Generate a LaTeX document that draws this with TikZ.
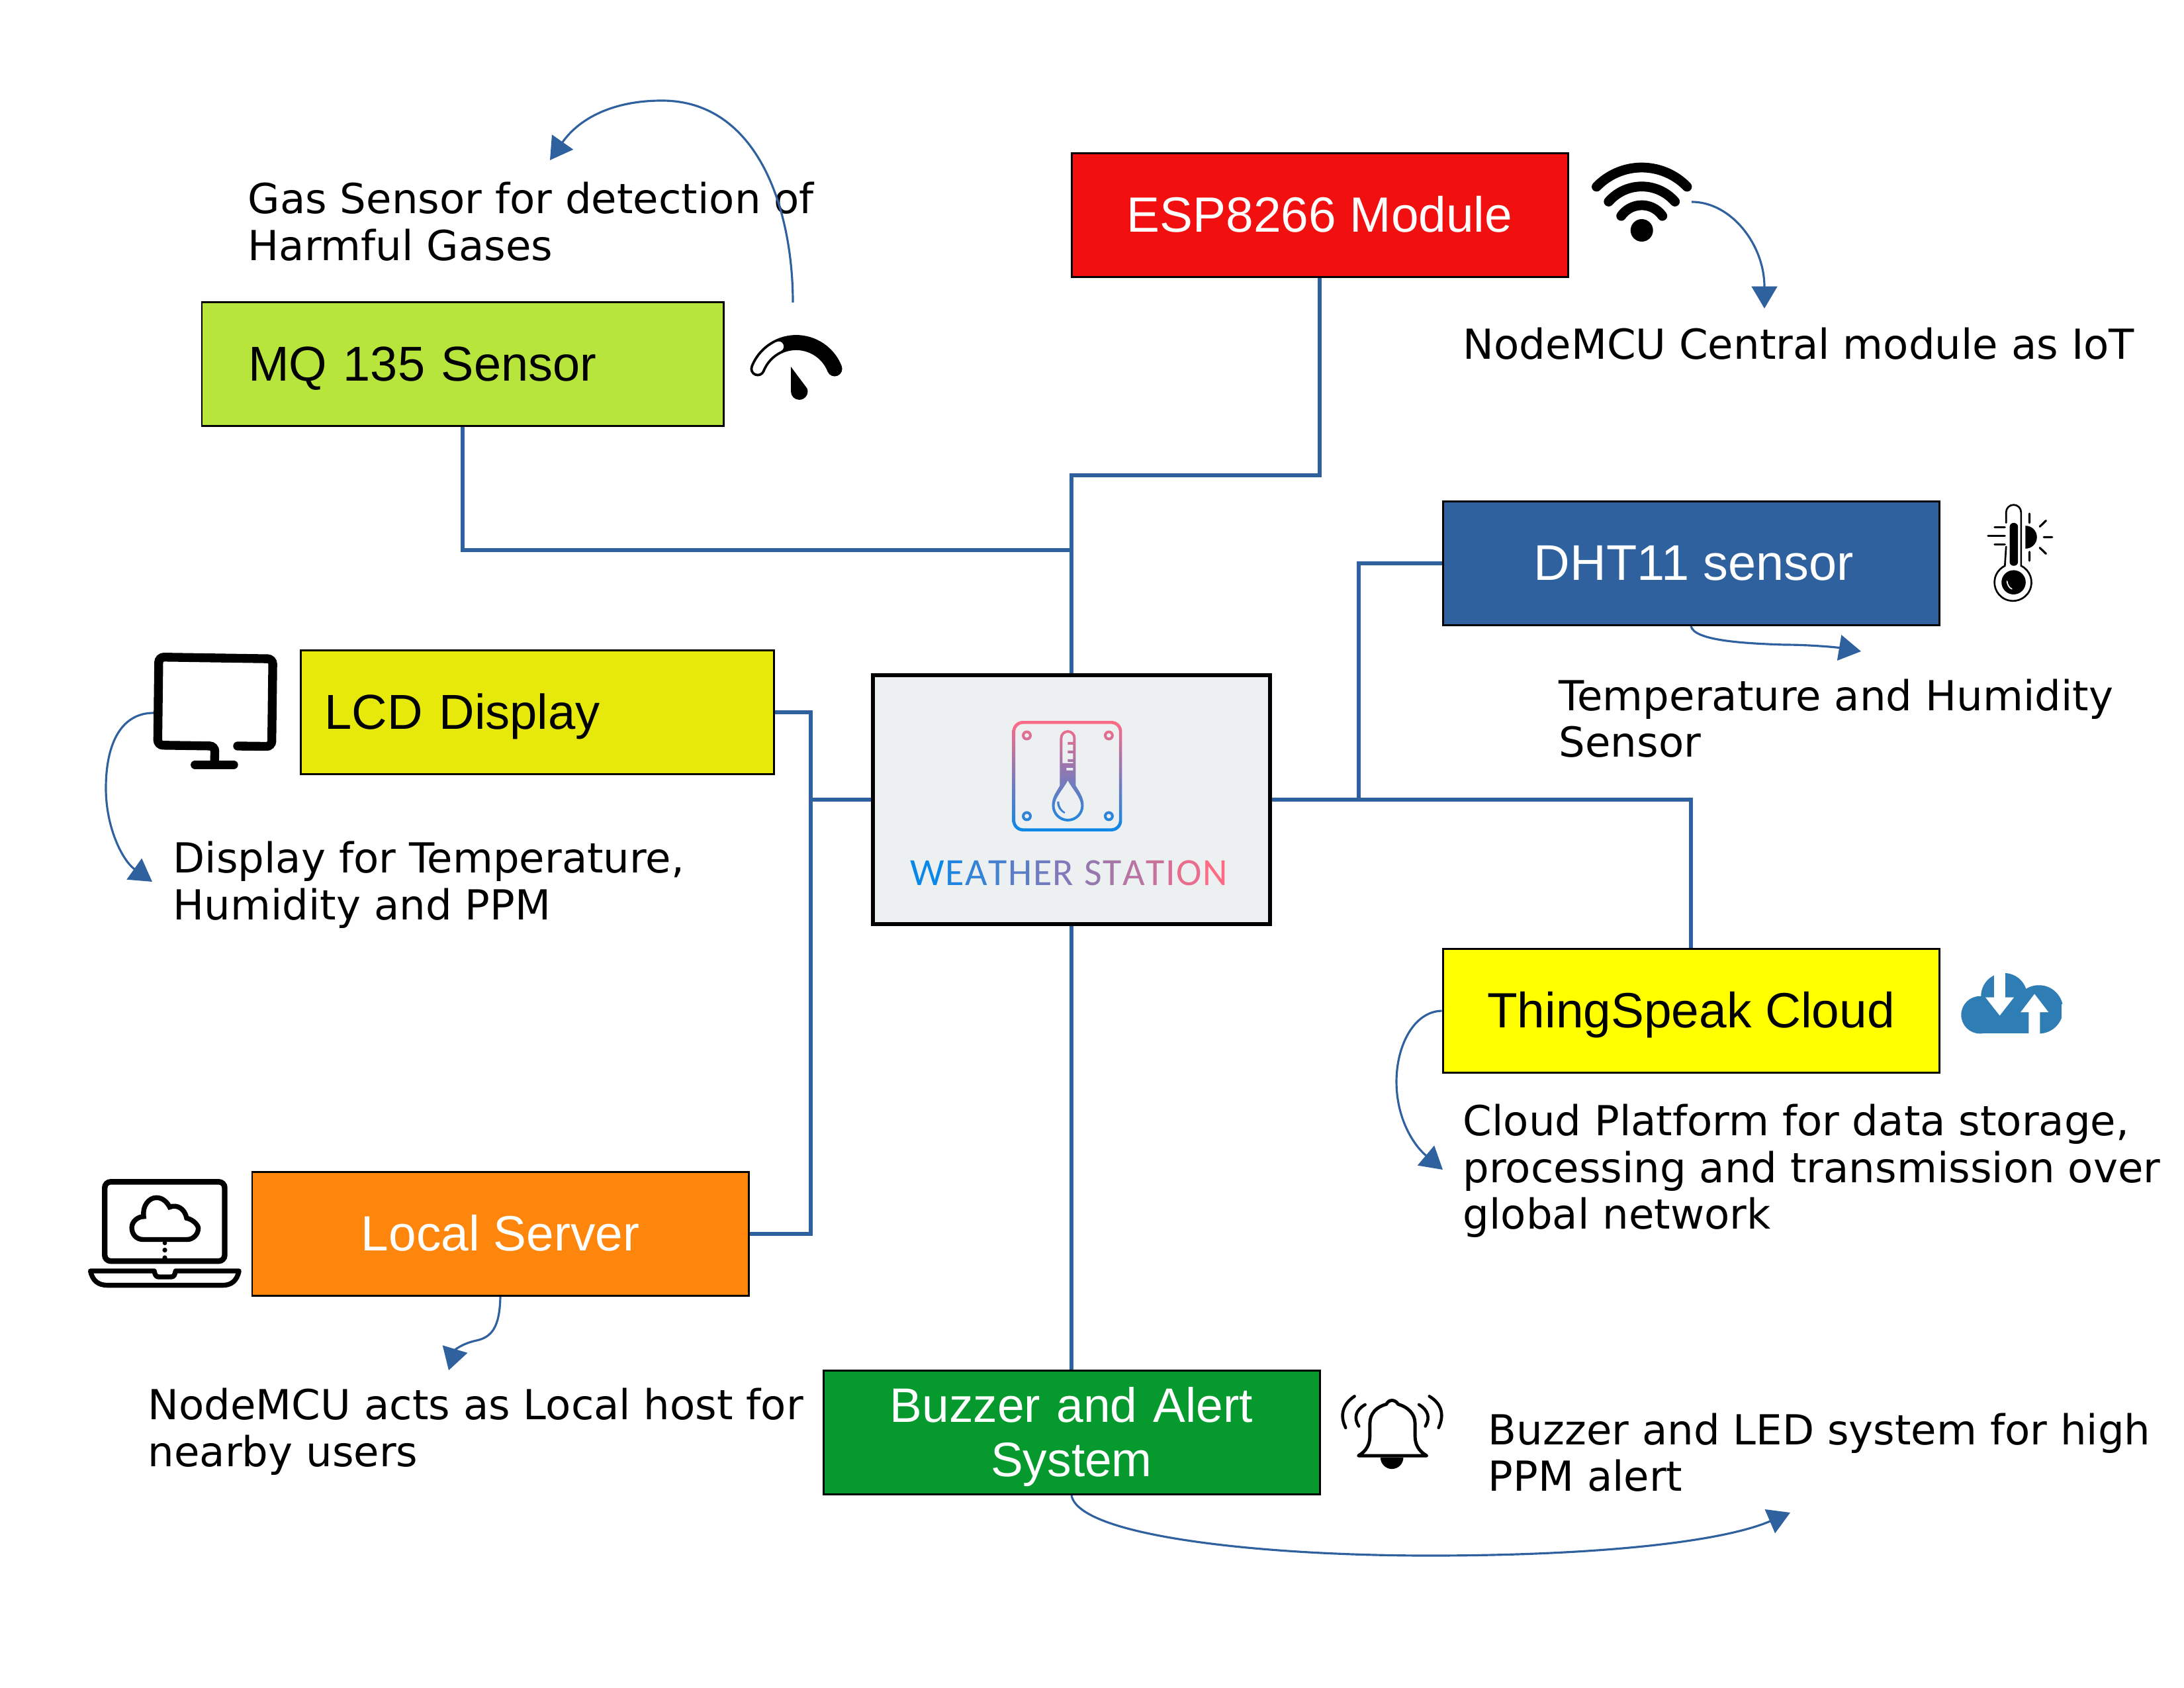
\documentclass[tikz,border=0pt]{standalone}
\usepackage{fontspec}
\usepackage{tikz}
\usetikzlibrary{arrows.meta}
\setmainfont{Liberation Sans}
\newfontfamily\descfont{DejaVu Sans}
\newfontfamily\logofont{Carlito}
\definecolor{fBlue}{HTML}{2F619F}
\definecolor{fCloud}{HTML}{2E7EB5}
\definecolor{wsBlue}{HTML}{0A88E8}
\definecolor{wsPink}{HTML}{FF6B85}
\definecolor{fWeather}{HTML}{ECF0F1}
\definecolor{fRed}{HTML}{F20F0F}
\definecolor{fLime}{HTML}{B8E53C}
\definecolor{fMustard}{HTML}{E6E90A}
\definecolor{fYellow}{HTML}{FFFF00}
\definecolor{fOrange}{HTML}{FF860D}
\definecolor{fGreen}{HTML}{069A2E}
\tikzstyle{fBox} = [rectangle, minimum width=7.5cm, minimum height=1.87cm, inner sep=0pt, text centered, text height=14.3pt, text depth=0pt, draw=black, line width=0.85pt, font=\fontsize{21.3}{23.4}\selectfont]
\tikzstyle{fText} = [anchor=west, inner sep=0pt, align=left, font=\descfont\fontsize{17.8}{20.1}\selectfont]
\tikzstyle{fBus} = [line width=1.8pt, draw=fBlue]
\tikzstyle{fArrow} = [line width=0.9pt, draw=fBlue, -{Triangle[length=9.5pt,width=11pt,fill=fBlue]}]
\tikzstyle{fPix} = [x=0.01cm, y=0.01cm]
\tikzstyle{fZoom} = [x=0.003333cm, y=0.003333cm]
\begin{document}
\begin{tikzpicture}[node distance=2cm]
    \useasboundingbox (0,0) rectangle (33,-25.5);

    \node (weather) [fBox, minimum width=6cm, minimum height=3.76cm, line width=1.5pt, fill=fWeather] at (16.19,-12.08) {};
    \node (esp) [fBox, fill=fRed, text=white, above of=weather, xshift=3.75cm, yshift=6.83cm] {ESP8266 Module};
    \node (mq) [fBox, fill=fLime, minimum width=7.88cm, text width=6.48cm, align=left, font=\fontsize{21.05}{23.4}\selectfont, left of=weather, xshift=-7.2cm, yshift=6.58cm] {MQ 135 Sensor};
    \node (dht) [fBox, fill=fBlue, text=white, font=\fontsize{21.55}{23.4}\selectfont, right of=weather, xshift=7.36cm, yshift=3.57cm] {\hspace{0.085cm}DHT11 sensor};
    \node (lcd) [fBox, fill=fMustard, minimum width=7.15cm, text width=6.43cm, align=left, font=\fontsize{21.1}{23.4}\selectfont, left of=weather, xshift=-6.07cm, yshift=1.32cm] {LCD Display};
    \node (thing) [fBox, fill=fYellow, right of=weather, xshift=7.36cm, yshift=-3.19cm] {ThingSpeak Cloud};
    \node (local) [fBox, fill=fOrange, text=white, left of=weather, xshift=-6.63cm, yshift=-6.56cm] {Local Server};
    \node (buzzer) [fBox, fill=fGreen, text=white, text width=7cm, text depth=23.4pt, font=\fontsize{20.8}{23.4}\selectfont, below of=weather, yshift=-7.56cm] {Buzzer and Alert\\System};

    \node (gasText) [fText] at (3.74,-3.35) {Gas Sensor for detection of\\Harmful Gases};
    \node (espText) [fText] at (22.10,-5.19) {NodeMCU Central module as IoT};
    \node (dhtText) [fText] at (23.55,-10.85) {Temperature and Humidity\\Sensor};
    \node (lcdText) [fText] at (2.61,-13.37) {Display for Temperature,\\Humidity and PPM};
    \node (thingText) [fText] at (22.10,-17.69) {Cloud Platform for data storage,\\processing and transmission over\\global network};
    \node (localText) [fText] at (2.23,-21.63) {NodeMCU acts as Local host for\\nearby users};
    \node (buzzerText) [fText] at (22.48,-21.94) {Buzzer and LED system for high\\PPM alert};
    \node (logoText) [inner sep=0pt, font=\logofont\fontsize{16.5}{18}\selectfont] at (16.16,-13.19) {\foreach \c/\p in {W/0,E/9,A/17,T/25,H/33,E/41,R/48,~/52,S/57,T/64,A/71,T/78,I/84,O/91,N/100}{\textcolor{wsPink!\p!wsBlue}{\c}\kern0.43pt}};

    \coordinate (topBus) at (16.19,-7.18);
    \coordinate (mqBus) at (16.19,-8.31);
    \coordinate (leftBus) at (12.25,-12.08);
    \coordinate (rightBus) at (20.53,-12.08);
    \draw [fBus] (esp.south) |- (topBus) -- (weather.north);
    \draw [fBus] (mq.south) |- (mqBus);
    \draw [fBus] (lcd.east) -| (leftBus) -- (weather.west);
    \draw [fBus] (local.east) -| (leftBus);
    \draw [fBus] (weather.east) -| (thing.north);
    \draw [fBus] (dht.west) -| (rightBus);
    \draw [fBus] (weather.south) -- (buzzer.north);

    \coordinate (gasFrom) at (11.98,-4.57);
    \coordinate (gasTo) at (8.31,-2.42);
    \coordinate (espFrom) at (25.56,-3.05);
    \coordinate (espTo) at (26.66,-4.66);
    \coordinate (dhtTo) at (28.12,-9.84);
    \coordinate (lcdFrom) at (2.32,-10.77);
    \coordinate (lcdTo) at (2.30,-13.32);
    \coordinate (thingTo) at (21.80,-17.67);
    \coordinate (localTo) at (6.78,-20.70);
    \coordinate (buzzerTo) at (27.05,-22.85);
    \draw [fArrow] (gasFrom) .. controls (11.98,-3.16) and (11.45,-1.52) .. (10.0,-1.52) .. controls (9.26,-1.52) and (8.75,-1.79) .. (gasTo);
    \draw [fArrow] (espFrom) .. controls (26.16,-3.05) and (26.66,-3.7) .. (espTo);
    \draw [fArrow] (dht.south) .. controls (25.6,-9.68) and (26.36,-9.72) .. (26.96,-9.74) .. controls (27.36,-9.74) and (27.76,-9.78) .. (dhtTo);
    \draw [fArrow] (lcdFrom) .. controls (1.85,-10.77) and (1.6,-11.2) .. (1.6,-11.91) .. controls (1.6,-12.5) and (1.85,-13.0) .. (lcdTo);
    \draw [fArrow] (thing.west) .. controls (21.36,-15.28) and (21.1,-15.8) .. (21.1,-16.34) .. controls (21.1,-16.9) and (21.36,-17.3) .. (thingTo);
    \draw [fArrow] (local.south) .. controls (7.55,-20.05) and (7.43,-20.2) .. (7.2,-20.25) .. controls (6.97,-20.3) and (6.87,-20.4) .. (localTo);
    \draw [fArrow] (buzzer.south) .. controls (16.3,-23.2) and (19,-23.5) .. (21.6,-23.5) .. controls (24.1,-23.5) and (26,-23.3) .. (buzzerTo);

    \begin{scope}[shift={(15.295,-10.89)}, fPix]
        \shade [even odd rule, top color=wsPink, bottom color=wsBlue]
            [rounded corners=0.16cm] (0,0) rectangle (166,-167)
            [rounded corners=0.12cm] (4.5,-4.5) rectangle (161.5,-162.5)
            [sharp corners]
            (22,-22) circle[radius=7.5] (22,-22) circle[radius=3.5]
            (146,-22) circle[radius=7.5] (146,-22) circle[radius=3.5]
            (22,-144) circle[radius=7.5] (22,-144) circle[radius=3.5]
            (146,-144) circle[radius=7.5] (146,-144) circle[radius=3.5]
            (72,-26) arc[start angle=180,end angle=0,radius=12] -- (96,-98) .. controls (102,-108) and (108,-116) .. (108,-128) arc[start angle=0,end angle=-180,radius=24] .. controls (60,-116) and (66,-108) .. (72,-98) -- cycle
            (76,-26) arc[start angle=180,end angle=0,radius=8] -- (92,-64) -- (76,-64) -- cycle
            (84,-32) rectangle (92,-36) (84,-45) rectangle (92,-49) (84,-58) rectangle (92,-62)
            (82,-71) rectangle (92,-75)
            (84,-90) .. controls (90,-102) and (104,-116) .. (104,-128) arc[start angle=0,end angle=-180,radius=20] .. controls (64,-116) and (78,-102) .. (84,-90) -- cycle
            (68,-122) .. controls (67,-130) and (72,-137) .. (79,-140) -- (80,-138) .. controls (75,-135) and (71,-130) .. (71,-122) -- cycle;
    \end{scope}

    \begin{scope}[shift={(12.03,-5.80)}, fPix]
        \draw [line width=6.5pt, line cap=round] (158.5:62.5) arc[start angle=158.5,end angle=21.5,radius=62.5];
        \draw [white, line width=4.3pt, line cap=round] (158.5:62.5) arc[start angle=158.5,end angle=115,radius=62.5];
        \fill (-8,26) -- (-8,-11.3) arc[start angle=180,end angle=380,radius=12.7] -- cycle;
    \end{scope}

    \begin{scope}[shift={(24.807,-3.48)}, fPix]
        \fill (0,0) circle[radius=17];
        \draw [line width=4.2pt, line cap=round] (44:95) arc[start angle=44,end angle=136,radius=95];
        \draw [line width=4.2pt, line cap=round] (41:66.3) arc[start angle=41,end angle=139,radius=66.3];
        \draw [line width=4.2pt, line cap=round] (35:38) arc[start angle=35,end angle=145,radius=38];
    \end{scope}

    \begin{scope}[shift={(29.60,-7.40)}, fZoom, line width=0.76pt, line cap=round]
        \draw (214,-150) -- (214,-102) arc[start angle=180,end angle=0,radius=34] -- (282,-345) arc[start angle=64,end angle=-244,radius=84] -- (214,-258);
        \fill [rounded corners=0.06cm] (230,-345) -- (230,-150) -- (268,-150) -- (268,-345) -- cycle;
        \fill (248,-420) circle[radius=55];
        \draw [white, line width=0.5pt] (218,-415) .. controls (220,-432) and (228,-445) .. (240,-450);
        \draw [line width=0.9pt] (162,-171) -- (208,-171) (132,-210) -- (208,-210) (162,-248) -- (208,-248);
        \fill (302,-163) arc[start angle=90,end angle=-90,radius=52] -- cycle;
        \draw [line width=0.9pt] (320,-108) -- (320,-150) (320,-282) -- (320,-322) (385,-215) -- (423,-215) (367,-167) -- (395,-140) (367,-263) -- (395,-290);
    \end{scope}

    \begin{scope}[shift={(2.10,-9.70)}, fZoom]
        \draw [line width=3.8pt, line cap=round, rounded corners=0.08cm] (448,-472) -- (603,-474) -- (608,-76) -- (90,-68) -- (85,-468) -- (345,-472) -- (343,-557);
        \draw [line width=3.8pt, line cap=round] (255,-557) -- (430,-557);
    \end{scope}

    \begin{scope}[shift={(29.50,-14.50)}, fZoom]
        \fill [fCloud] (125,-250) circle[radius=85] (235,-165) circle[radius=105] (393,-225) circle[radius=110];
        \fill [fCloud] (125,-335) rectangle (395,-200);
        \fill [white] (190,-40) rectangle (240,-170);
        \fill [white] (150,-170) -- (280,-170) -- (215,-253) -- cycle;
        \fill [white] (373,-155) -- (437,-238) -- (398,-238) -- (398,-350) -- (347,-350) -- (347,-238) -- (310,-238) -- cycle;
        \fill [white] (495,-200) rectangle (520,-350);
        \fill [white] (120,-337) rectangle (500,-350);
    \end{scope}

    \begin{scope}[shift={(1.20,-17.72)}, fZoom]
        \draw [line width=2.4pt, rounded corners=0.09cm] (115,-40) rectangle (660,-400);
        \draw [line width=2.1pt] (290,-302) .. controls (255,-302) and (238,-275) .. (238,-248) .. controls (238,-220) and (265,-198) .. (292,-198) .. controls (285,-150) and (315,-112) .. (350,-112) .. controls (380,-112) and (400,-135) .. (410,-155) .. controls (445,-140) and (480,-165) .. (487,-205) .. controls (520,-212) and (540,-240) .. (540,-250) .. controls (540,-280) and (515,-302) .. (490,-302) -- cycle;
        \fill (388,-318) circle[radius=10] (388,-350) circle[radius=11] (388,-385) circle[radius=11];
        \draw [line width=2.1pt, line join=round] (50,-445) -- (340,-445) .. controls (345,-470) and (350,-472) .. (365,-472) -- (415,-472) .. controls (430,-472) and (432,-465) .. (437,-445) -- (725,-445) .. controls (715,-490) and (690,-510) .. (650,-510) -- (130,-510) .. controls (85,-510) and (60,-490) .. (50,-445) -- cycle;
    \end{scope}

    \begin{scope}[shift={(20.20,-20.92)}, fZoom]
        \draw [line width=1.4pt, line join=round] (98,-322) .. controls (135,-300) and (150,-270) .. (150,-230) -- (150,-175) .. controls (150,-130) and (180,-100) .. (225,-88) .. controls (235,-65) and (265,-65) .. (278,-88) .. controls (320,-100) and (355,-130) .. (355,-175) -- (355,-230) .. controls (355,-270) and (370,-300) .. (408,-322) -- cycle;
        \fill (198,-330) arc[start angle=180,end angle=360,radius=52] -- cycle;
        \draw [line width=1.3pt, line cap=round] (80,-52) .. controls (30,-85) and (10,-135) .. (40,-195);
        \draw [line width=1.3pt, line cap=round] (128,-90) .. controls (85,-115) and (75,-150) .. (100,-188);
        \draw [line width=1.3pt, line cap=round] (420,-52) .. controls (475,-85) and (490,-135) .. (462,-195);
        \draw [line width=1.3pt, line cap=round] (373,-90) .. controls (415,-115) and (425,-150) .. (402,-188);
    \end{scope}
\end{tikzpicture}
\end{document}
